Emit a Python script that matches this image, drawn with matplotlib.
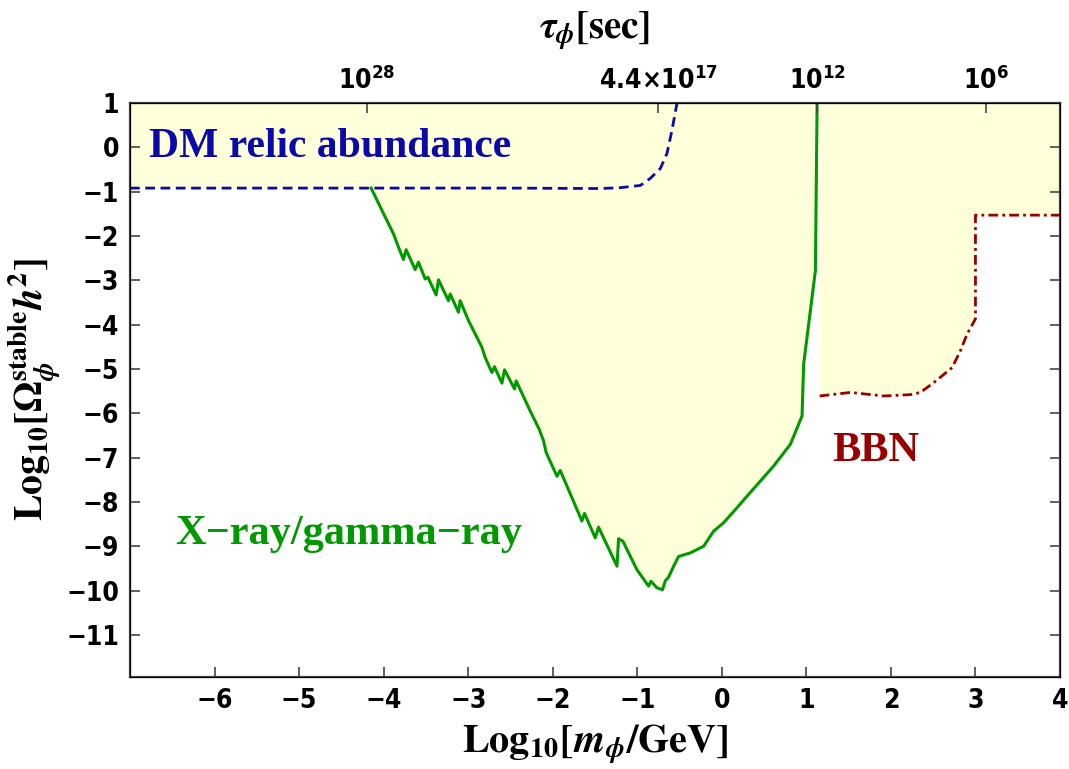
import numpy as np
import matplotlib
matplotlib.use("Agg")
import matplotlib.pyplot as plt

plt.rcParams.update({
    "font.family": ["DejaVu Sans"],
    "font.stretch": "condensed",
    "font.weight": "bold",
    "mathtext.fontset": "stix",
    "mathtext.rm": "DejaVu Sans:bold",
    "mathtext.bf": "DejaVu Sans:bold",
    "mathtext.it": "DejaVu Sans:bold",
})

FILL = "#FFFFD9"
BLUE = "#0A0AAA"
GREEN = "#009A00"
DARKRED = "#990000"
SPINE = "#444444"

X_MIN, X_MAX = -7, 4
Y_MIN, Y_MAX = -11.95, 1

# DM relic abundance boundary (blue dashed)
dm_x = [-7.0, -2.5, -1.44, -1.2, -0.964, -0.846, -0.728, -0.649, -0.589, -0.53]
dm_y = [-0.92, -0.92, -0.93, -0.91, -0.86, -0.70, -0.48, -0.14, 0.39, 1.0]

# X-ray / gamma-ray boundary (green)
xr_x = [-4.148, -4.00, -3.884, -3.825, -3.766, -3.734, -3.627, -3.588, -3.509,
        -3.477, -3.379, -3.351, -3.233, -3.213, -3.115, -3.095, -2.996, -2.838,
        -2.799, -2.720, -2.689, -2.601, -2.570, -2.452, -2.432, -2.266, -2.160,
        -2.109, -2.077, -1.950, -1.911, -1.655, -1.624, -1.497, -1.458, -1.240,
        -1.221, -1.169, -1.004, -0.866, -0.838, -0.767, -0.701, -0.669, -0.630,
        -0.570, -0.511, -0.373, -0.215, -0.097, 0.021, 0.180, 0.298, 0.456,
        0.613, 0.811, 0.949, 0.968, 1.107, 1.127]
xr_y = [-0.92, -1.50, -1.95, -2.25, -2.53, -2.31, -2.76, -2.59, -2.97,
        -2.93, -3.33, -2.99, -3.46, -3.31, -3.72, -3.46, -3.91, -4.51,
        -4.74, -5.08, -4.95, -5.32, -5.02, -5.45, -5.27, -5.95, -6.36,
        -6.62, -6.89, -7.42, -7.29, -8.43, -8.26, -8.81, -8.57, -9.45,
        -8.83, -8.89, -9.53, -9.90, -9.79, -9.94, -9.98, -9.78, -9.70,
        -9.45, -9.23, -9.15, -9.00, -8.66, -8.47, -8.13, -7.87, -7.53,
        -7.19, -6.70, -6.06, -4.89, -2.78, 1.0]

# BBN boundary (dark red dash-dot)
bbn_x = [1.157, 1.521, 1.915, 2.231, 2.349, 2.506, 2.724, 2.822, 2.902, 3.0, 3.0, 4.0]
bbn_y = [-5.61, -5.53, -5.61, -5.58, -5.53, -5.31, -4.97, -4.59, -4.21, -3.87, -1.53, -1.53]

y_ticks = list(range(-11, 2))
x_ticks = list(range(-6, 5))
tau_pos = [-4.20, -0.75, 1.13, 3.13]
tau_labels = [r"10$^{28}$", r"4.4×10$^{17}$", r"10$^{12}$", r"10$^{6}$"]

fig = plt.figure(figsize=(10.69, 7.69), dpi=100)
ax = fig.add_axes([130 / 1069, 1 - 677 / 769, 930 / 1069, 574 / 769])

# shaded excluded regions
ax.fill_between(dm_x, dm_y, Y_MAX, color=FILL, lw=0, zorder=1)
ax.fill(np.r_[xr_x, xr_x[-1], xr_x[0]], np.r_[xr_y, Y_MAX, Y_MAX],
        color=FILL, lw=0, zorder=1)
ax.fill_between(bbn_x, bbn_y, Y_MAX, color=FILL, lw=0, zorder=1)

ax.plot(dm_x, dm_y, color=BLUE, lw=2, ls=(0, (3.5, 2)), zorder=3)
ax.plot(xr_x, xr_y, color=GREEN, lw=2.2, zorder=3)
ax.plot(bbn_x, bbn_y, color=DARKRED, lw=2, ls=(0, (3.5, 1.5, 1, 1.5)), zorder=3)

serif = "Liberation Serif"
ax.text(-6.78, 0.0, "DM relic abundance", color=BLUE, fontsize=30,
        family=serif, stretch="normal", weight="bold", va="center", ha="left")
ax.text(-6.47, -8.73, "X\u2212ray/gamma\u2212ray", color=GREEN, fontsize=30.5,
        family=serif, stretch="normal", weight="bold", va="center", ha="left")
ax.text(1.31, -6.85, "BBN", color=DARKRED, fontsize=30.5,
        family=serif, stretch="normal", weight="bold", va="center", ha="left")

ax.set_xlim(X_MIN, X_MAX)
ax.set_ylim(Y_MIN, Y_MAX)
ax.set_xticks(x_ticks)
ax.set_yticks(y_ticks)
ax.set_xticklabels([f"\u2212{-t}" if t < 0 else str(t) for t in x_ticks])
ax.set_yticklabels([f"\u2212{-t}" if t < 0 else str(t) for t in y_ticks])
ax.tick_params(direction="in", length=7, width=1.2, color=SPINE,
               labelsize=19, right=True, top=False, pad=8)
for s in ax.spines.values():
    s.set_color(SPINE)
    s.set_linewidth(1.6)

ax.set_xlabel(r"$\mathbf{Log_{10}[}\mathbfit{m}_{\mathit{\phi}}\mathbf{/GeV]}$",
              fontsize=29, labelpad=6, math_fontfamily="stix")
ax.set_ylabel(r"$\mathbf{Log_{10}[\Omega}_{\mathit{\phi}}^{\mathbf{stable}}\mathbfit{h}^{\mathbf{2}}\mathbf{]}$",
              fontsize=28.5, labelpad=2, math_fontfamily="stix")

top = ax.twiny()
top.set_xlim(X_MIN, X_MAX)
top.set_xticks(tau_pos)
top.set_xticklabels(tau_labels, math_fontfamily="custom")
top.tick_params(direction="in", length=7, width=1.2, color=SPINE,
                labelsize=19, pad=6)
top.set_xlabel(r"$\mathit{\tau}_{\mathit{\phi}}\mathbf{[sec]}$",
               fontsize=28, labelpad=20, math_fontfamily="stix")

fig.savefig("out.png", dpi=100)
